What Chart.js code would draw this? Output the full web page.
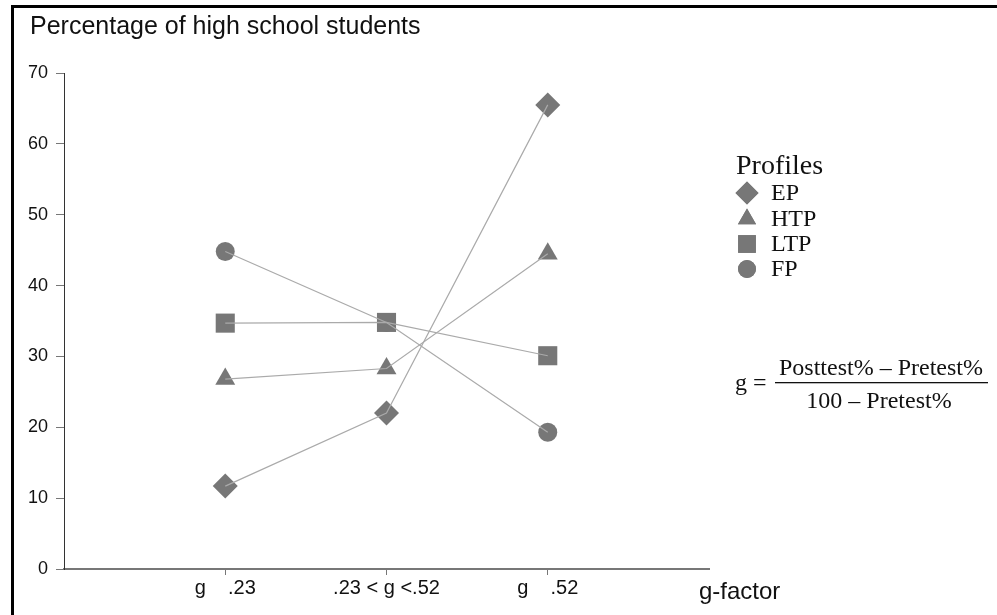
<!DOCTYPE html>
<html>
<head>
<meta charset="utf-8">
<script src="https://cdn.jsdelivr.net/npm/chart.js@4/dist/chart.umd.min.js"></script>
<style>
html,body{margin:0;padding:0;background:#fff;}
#wrap{width:997px;height:615px;position:relative;}
</style>
</head>
<body>
<div id="wrap"><canvas id="c" width="997" height="615"></canvas></div>
<script>
// ---- data ----
const categories = ["g    .23", ".23 < g <.52", "g    .52"];
const categoryPos = [1, 2, 3];
const seriesNames = ["EP", "HTP", "LTP", "FP"];
const EP  = [11.7, 22.0, 65.5];
const HTP = [26.8, 28.3, 44.5];
const LTP = [34.7, 34.8, 30.1];
const FP  = [44.8, 34.8, 19.3];
const yTicks = [0, 10, 20, 30, 40, 50, 60, 70];

const seriesValues = [EP, HTP, LTP, FP];
const pointStyles = ["rectRot", "triangle", "rect", "circle"];
const pointRadii = [12.5, 11.5, 13.5, 9.5];
const markerColor = "#777777";
const lineColor = "#aaaaaa";

const datasets = [];
seriesValues.forEach((vals, i) => {
  const pts = vals.map((v, j) => ({x: categoryPos[j], y: v}));
  datasets.push({
    label: seriesNames[i], data: pts, showLine: false,
    pointStyle: pointStyles[i], pointRadius: pointRadii[i], pointHoverRadius: pointRadii[i],
    backgroundColor: markerColor, borderColor: markerColor, borderWidth: 0, order: 2
  });
});
seriesValues.forEach((vals, i) => {
  const pts = vals.map((v, j) => ({x: categoryPos[j], y: v}));
  datasets.push({
    label: seriesNames[i] + " line", data: pts, showLine: true,
    pointRadius: 0, borderColor: lineColor, borderWidth: 1.2, fill: false, order: 1
  });
});

const decor = {
  id: "decor",
  afterDraw(chart) {
    const ctx = chart.ctx;
    ctx.save();
    // frame
    ctx.fillStyle = "#000";
    ctx.fillRect(11, 5, 3, 610);
    ctx.fillRect(11, 5, 986, 3);
    // title
    ctx.fillStyle = "#111";
    ctx.font = "25px 'Liberation Sans', Arial, sans-serif";
    ctx.textAlign = "left";
    ctx.textBaseline = "alphabetic";
    ctx.fillText("Percentage of high school students", 30, 34);
    // x axis title
    ctx.font = "24px 'Liberation Sans', Arial, sans-serif";
    ctx.fillText("g-factor", 699, 599);
    // legend
    ctx.font = "28px 'Liberation Serif', 'Times New Roman', serif";
    ctx.fillText("Profiles", 736, 174);
    ctx.font = "24px 'Liberation Serif', 'Times New Roman', serif";
    const rows = [193, 219, 244, 269];
    const legRadii = [11.5, 10.5, 12.5, 9];
    seriesNames.forEach((n, i) => {
      ctx.fillStyle = markerColor;
      ctx.strokeStyle = markerColor;
      Chart.helpers.drawPoint(ctx, {pointStyle: pointStyles[i], radius: legRadii[i], borderWidth: 0, rotation: 0}, 747, rows[i]);
      ctx.fill();
      ctx.fillStyle = "#111";
      ctx.textBaseline = "middle";
      ctx.fillText(n, 771, rows[i] + 1);
    });
    // formula
    ctx.textBaseline = "alphabetic";
    ctx.font = "24px 'Liberation Serif', 'Times New Roman', serif";
    ctx.fillStyle = "#111";
    ctx.textAlign = "left";
    ctx.fillText("g =", 735, 390);
    ctx.textAlign = "center";
    ctx.fillText("Posttest% \u2013 Pretest%", 881, 375);
    ctx.fillText("100 \u2013 Pretest%", 879, 408);
    ctx.fillRect(775, 382, 213, 1.3);
    ctx.restore();
  }
};

new Chart(document.getElementById("c"), {
  type: "scatter",
  data: {datasets},
  options: {
    responsive: false,
    animation: false,
    layout: {padding: {top: 73, right: 288, bottom: 0, left: 0}},
    plugins: {legend: {display: false}, tooltip: {enabled: false}, title: {display: false}},
    scales: {
      x: {
        type: "linear", min: 0, max: 4,
        afterFit(s) { s.height = 46; },
        afterBuildTicks(s) { s.ticks = categoryPos.map(v => ({value: v})); },
        ticks: {
          callback: v => categories[categoryPos.indexOf(v)] || "",
          color: "#111", padding: 1, maxRotation: 0, autoSkip: false,
          font: {family: "'Liberation Sans', Arial, sans-serif", size: 20}
        },
        grid: {drawOnChartArea: false, drawTicks: true, tickLength: 6, color: "#777"},
        border: {color: "#777", width: 2}
      },
      y: {
        min: 0, max: 70,
        afterFit(s) { s.width = 64; },
        afterBuildTicks(s) { s.ticks = yTicks.map(v => ({value: v})); },
        ticks: {
          color: "#111", padding: 8,
          font: {family: "'Liberation Sans', Arial, sans-serif", size: 18}
        },
        grid: {drawOnChartArea: false, drawTicks: true, tickLength: 8, color: "#777"},
        border: {color: "#333", width: 1}
      }
    }
  },
  plugins: [decor]
});
</script>
</body>
</html>
